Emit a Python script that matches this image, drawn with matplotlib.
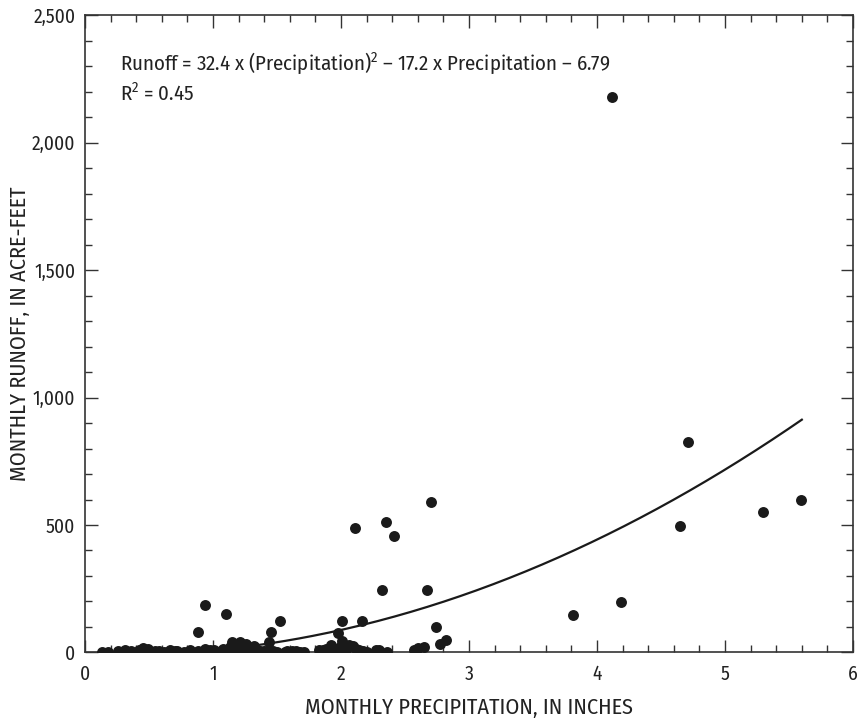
import numpy as np
import matplotlib
matplotlib.use("Agg")
import matplotlib.pyplot as plt
from matplotlib.ticker import MultipleLocator, FuncFormatter

plt.rcParams['font.family'] = ['Fira Sans Condensed', 'DejaVu Sans']
plt.rcParams['mathtext.fontset'] = 'custom'
plt.rcParams['mathtext.rm'] = 'Fira Sans Condensed'

# Monthly precipitation (inches) and runoff (acre-feet)
precip_high = [4.12, 4.71, 4.65, 5.30, 5.59, 3.81, 4.19,
               2.70, 2.11, 2.35, 2.41, 2.32, 2.67, 2.74, 2.77, 2.82,
               1.52, 2.01, 2.16, 1.98, 2.01, 0.94, 1.10, 0.88, 1.45, 1.44,
               1.15, 1.21, 1.26, 1.32]
runoff_high = [2180, 825, 498, 550, 598, 148, 198,
               590, 490, 513, 455, 245, 245, 100, 35, 50,
               122, 122, 122, 75, 45, 185, 150, 80, 80, 42,
               42, 42, 33, 26]

# the crowd of months with almost no runoff
precip_low = [0.13, 0.26, 0.31, 0.36, 0.42, 0.49, 0.55, 0.62, 0.66, 0.77,
              0.82, 0.88, 0.94, 1.01, 1.06, 1.11, 1.16, 1.21, 1.26, 1.32,
              1.37, 1.42, 1.50, 1.56, 1.62, 1.65, 1.71, 1.83, 1.88, 1.92,
              1.94, 1.99, 2.04, 2.09, 2.12, 2.17, 2.27, 2.30, 2.36, 2.57,
              2.60, 2.65, 0.45, 0.70, 1.18, 1.28, 1.90, 2.06,
              0.18, 0.58, 0.72, 0.98, 1.08, 1.13, 1.23, 1.34, 1.40, 1.47,
              1.58, 1.68, 1.86, 1.96, 2.02, 2.14, 2.20]
runoff_low = [2, 5, 8, 4, 10, 12, 6, 3, 9, 2,
              10, 4, 14, 8, 5, 10, 12, 6, 15, 8,
              4, 7, 3, 2, 6, 4, 3, 8, 15, 29,
              12, 20, 10, 25, 15, 5, 8, 9, 3, 9,
              18, 22, 16, 5, 20, 10, 6, 30,
              3, 6, 4, 8, 12, 20, 18, 10, 6, 4,
              5, 3, 10, 14, 20, 8, 3]

# Fitted curve: Runoff = 32.4 P^2 - 17.2 P - 6.79
fit_a, fit_b, fit_c = 32.4, -17.2, -6.79
fit_start, fit_end = 1.35, 5.6

fig = plt.figure(figsize=(8.58, 7.19), dpi=100)
ax = fig.add_axes([0.0991, 0.0925, 0.8951, 0.8866])

px = np.array(precip_high + precip_low)
ry = np.array(runoff_high + runoff_low)
ax.scatter(px, ry, s=62, color='#1a1a1a', zorder=3, linewidths=0)

xc = np.linspace(fit_start, fit_end, 200)
ax.plot(xc, fit_a * xc**2 + fit_b * xc + fit_c, color='#1a1a1a', lw=1.6, zorder=2)

ax.set_xlim(0, 6)
ax.set_ylim(0, 2500)
ax.xaxis.set_major_locator(MultipleLocator(1))
ax.xaxis.set_minor_locator(MultipleLocator(0.2))
ax.yaxis.set_major_locator(MultipleLocator(500))
ax.yaxis.set_minor_locator(MultipleLocator(100))
ax.yaxis.set_major_formatter(FuncFormatter(lambda v, p: f"{int(v):,}"))

ax.tick_params(which='both', direction='in', top=True, right=True,
               labelsize=14, color='#333333', width=1, labelcolor='#222222')
ax.tick_params(which='major', length=9)
ax.tick_params(which='minor', length=5)
ax.tick_params(axis='x', which='major', pad=9)
ax.tick_params(axis='y', which='major', pad=7)
for s in ax.spines.values():
    s.set_linewidth(1.2)
    s.set_color('#333333')

ax.set_xlabel('MONTHLY PRECIPITATION, IN INCHES', fontsize=16, color='#222222')
ax.set_ylabel('MONTHLY RUNOFF, IN ACRE-FEET', fontsize=16, color='#222222')
ax.xaxis.label.set_va('baseline')
ax.xaxis.set_label_coords(0.5, -0.0965)
ax.yaxis.label.set_va('center')
ax.yaxis.set_label_coords(-0.0846, 0.5)

ax.text(0.0456, 0.914,
        'Runoff = 32.4 x (Precipitation)$^2$ \u2013 17.2 x Precipitation \u2013 6.79',
        transform=ax.transAxes, fontsize=15, color='#222222')
ax.text(0.0456, 0.865, 'R$^2$ = 0.45', transform=ax.transAxes,
        fontsize=15, color='#222222')

fig.savefig('out.png', dpi=100)
